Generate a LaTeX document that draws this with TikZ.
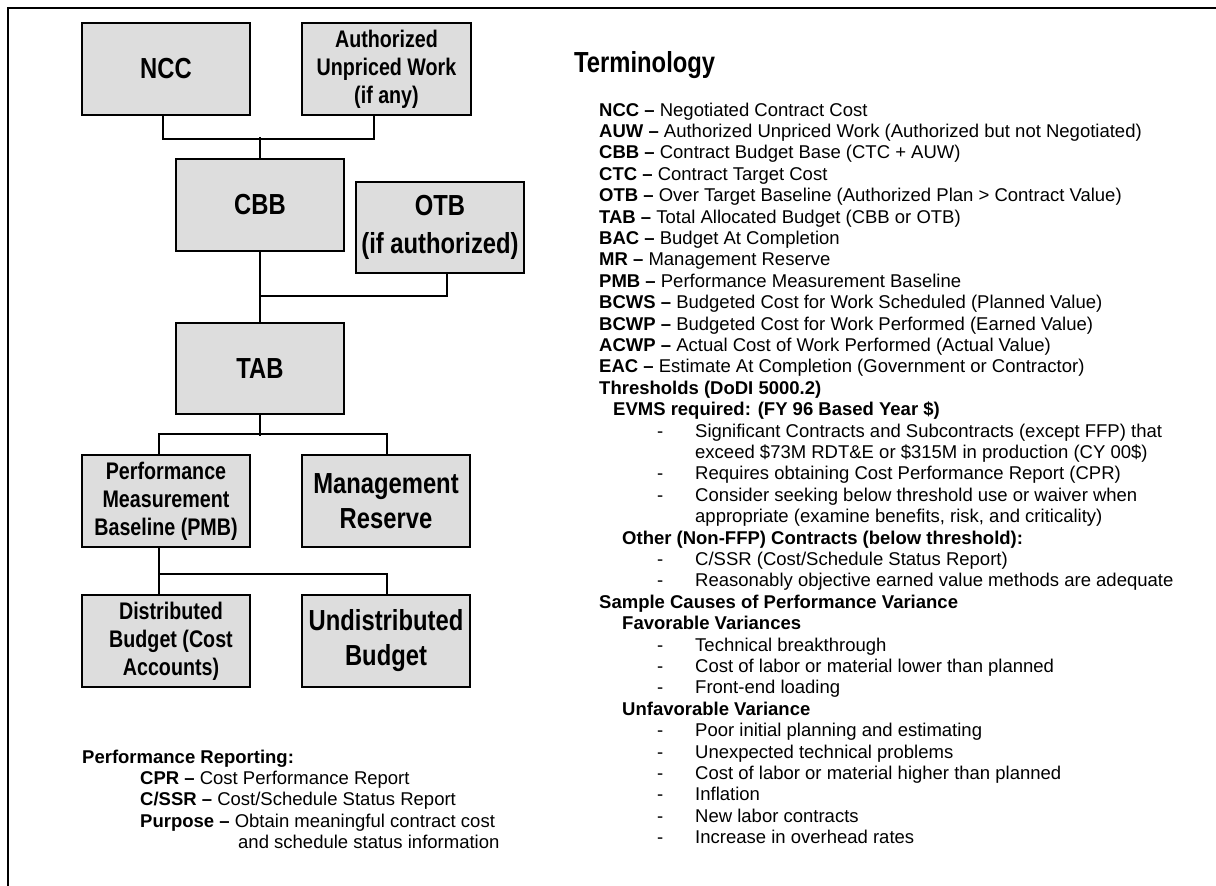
\documentclass[tikz,border=0pt]{standalone}
\usepackage{fontspec}
\setmainfont{Liberation Sans}
\newfontfamily\narrowfam{Liberation Sans}[FakeStretch=0.82]
\definecolor{boxgray}{RGB}{221,221,221}

% one line of running text, set on its baseline
\newcommand\tl[4]{\node[txt] (#1) at (#2,{116+21.4*#3}) {#4};}
% one bulleted line: hyphen plus its text
\newcommand\dl[3]{\node[txt] (#1d) at (657,{116+21.4*#2}) {-};\node[txt] (#1) at (695,{116+21.4*#2}) {#3};}
% one line of the reporting note
\newcommand\pl[4]{\node[txt] (#1) at (#2,{763+21.4*#3}) {#4};}

\begin{document}
\begin{tikzpicture}[x=1pt,y=-1pt,
  box/.style={draw=black, line width=2pt, fill=boxgray, minimum width=168pt,
    minimum height=92pt, inner sep=0pt, align=center, font=\narrowfam\bfseries},
  small/.style={font=\narrowfam\bfseries\fontsize{24}{28}\selectfont},
  big/.style={font=\narrowfam\bfseries\fontsize{29}{35}\selectfont},
  conn/.style={draw=black, line width=2pt},
  txt/.style={anchor=base west, inner sep=0pt, font=\fontsize{18.5}{21.4}\selectfont}]
\useasboundingbox (0,0) rectangle (1216,886);

% frame
\draw[line width=2pt] (8,886) -- (8,8) -- (1216,8);

% budget hierarchy
\node[box, big]   (ncc)    at (166,69)    {NCC};
\node[box, small, minimum width=169pt] (auw) at (386.5,69) {Authorized\\Unpriced Work\\(if any)};
\node[box, big]   (cbb)    at (260,205)   {CBB};
\node[box, big, minimum height=91pt, font=\narrowfam\bfseries\fontsize{29}{38}\selectfont]
                  (otb)    at (440,227.5) {OTB\\(if authorized)};
\node[box, big, minimum height=91pt] (tab) at (260,368.5) {TAB};
\node[box, small] (pmb)    at (166,501)   {Performance\\Measurement\\Baseline (PMB)};
\node[box, big]   (mr)     at (386,501)   {Management\\Reserve};
\node[box, small] (dist)   at (166,641)   {\hspace*{10pt}Distributed\\\hspace*{10pt}Budget (Cost\\\hspace*{10pt}Accounts)};
\node[box, big]   (undist) at (386,641)   {Undistributed\\Budget};

% connectors
\draw[conn] ([xshift=-3pt]ncc.south) -- ++(0,23) -| ([xshift=-12.5pt]auw.south);
\draw[conn] (cbb.north) -- ++(0,-21);
\draw[conn] (cbb.south) -- (tab.north);
\coordinate (jotb) at (260,296);
\draw[conn] ([xshift=7pt]otb.south) |- (jotb);
\draw[conn] (tab.south) -- ++(0,21);
\draw[conn] ([xshift=-7pt]pmb.north) -- ++(0,-20) -| ([xshift=1pt]mr.north);
\draw[conn] ([xshift=-7pt]pmb.south) -- ([xshift=-7pt]dist.north);
\draw[conn] ([xshift=-7pt]pmb.south) -- ++(0,26) -| ([xshift=1pt]undist.north);

% terminology
\node[anchor=base west, inner sep=0pt, font=\narrowfam\bfseries\fontsize{29}{35}\selectfont]
  (term) at (574,72) {Terminology};
\tl{t0}{599}{0}{\textbf{NCC –} Negotiated Contract Cost}
\tl{t1}{599}{1}{\textbf{AUW –} Authorized Unpriced Work (Authorized but not Negotiated)}
\tl{t2}{599}{2}{\textbf{CBB –} Contract Budget Base (CTC + AUW)}
\tl{t3}{599}{3}{\textbf{CTC –} Contract Target Cost}
\tl{t4}{599}{4}{\textbf{OTB –} Over Target Baseline (Authorized Plan > Contract Value)}
\tl{t5}{599}{5}{\textbf{TAB –} Total Allocated Budget (CBB or OTB)}
\tl{t6}{599}{6}{\textbf{BAC –} Budget At Completion}
\tl{t7}{599}{7}{\textbf{MR –} Management Reserve}
\tl{t8}{599}{8}{\textbf{PMB –} Performance Measurement Baseline}
\tl{t9}{599}{9}{\textbf{BCWS –} Budgeted Cost for Work Scheduled (Planned Value)}
\tl{t10}{599}{10}{\textbf{BCWP –} Budgeted Cost for Work Performed (Earned Value)}
\tl{t11}{599}{11}{\textbf{ACWP –} Actual Cost of Work Performed (Actual Value)}
\tl{t12}{599}{12}{\textbf{EAC –} Estimate At Completion (Government or Contractor)}
\tl{t13}{599}{13}{\textbf{Thresholds (DoDI 5000.2)}}
\tl{t14}{613}{14}{\textbf{EVMS required: (FY 96 Based Year \$)}}
\dl{t15}{15}{Significant Contracts and Subcontracts (except FFP) that}
\tl{t16}{695}{16}{exceed \$73M RDT\&E or \$315M in production (CY 00\$)}
\dl{t17}{17}{Requires obtaining Cost Performance Report (CPR)}
\dl{t18}{18}{Consider seeking below threshold use or waiver when}
\tl{t19}{695}{19}{appropriate (examine benefits, risk, and criticality)}
\tl{t20}{622}{20}{\textbf{Other (Non-FFP) Contracts (below threshold):}}
\dl{t21}{21}{C/SSR (Cost/Schedule Status Report)}
\dl{t22}{22}{Reasonably objective earned value methods are adequate}
\tl{t23}{599}{23}{\textbf{Sample Causes of Performance Variance}}
\tl{t24}{622}{24}{\textbf{Favorable Variances}}
\dl{t25}{25}{Technical breakthrough}
\dl{t26}{26}{Cost of labor or material lower than planned}
\dl{t27}{27}{Front-end loading}
\tl{t28}{622}{28}{\textbf{Unfavorable Variance}}
\dl{t29}{29}{Poor initial planning and estimating}
\dl{t30}{30}{Unexpected technical problems}
\dl{t31}{31}{Cost of labor or material higher than planned}
\dl{t32}{32}{Inflation}
\dl{t33}{33}{New labor contracts}
\dl{t34}{34}{Increase in overhead rates}

% performance reporting note
\pl{p0}{82}{0}{\textbf{Performance Reporting:}}
\pl{p1}{140}{1}{\textbf{CPR –} Cost Performance Report}
\pl{p2}{140}{2}{\textbf{C/SSR –} Cost/Schedule Status Report}
\pl{p3}{140}{3}{\textbf{Purpose –} Obtain meaningful contract cost}
\pl{p4}{238}{4}{and schedule status information}
\end{tikzpicture}
\end{document}
